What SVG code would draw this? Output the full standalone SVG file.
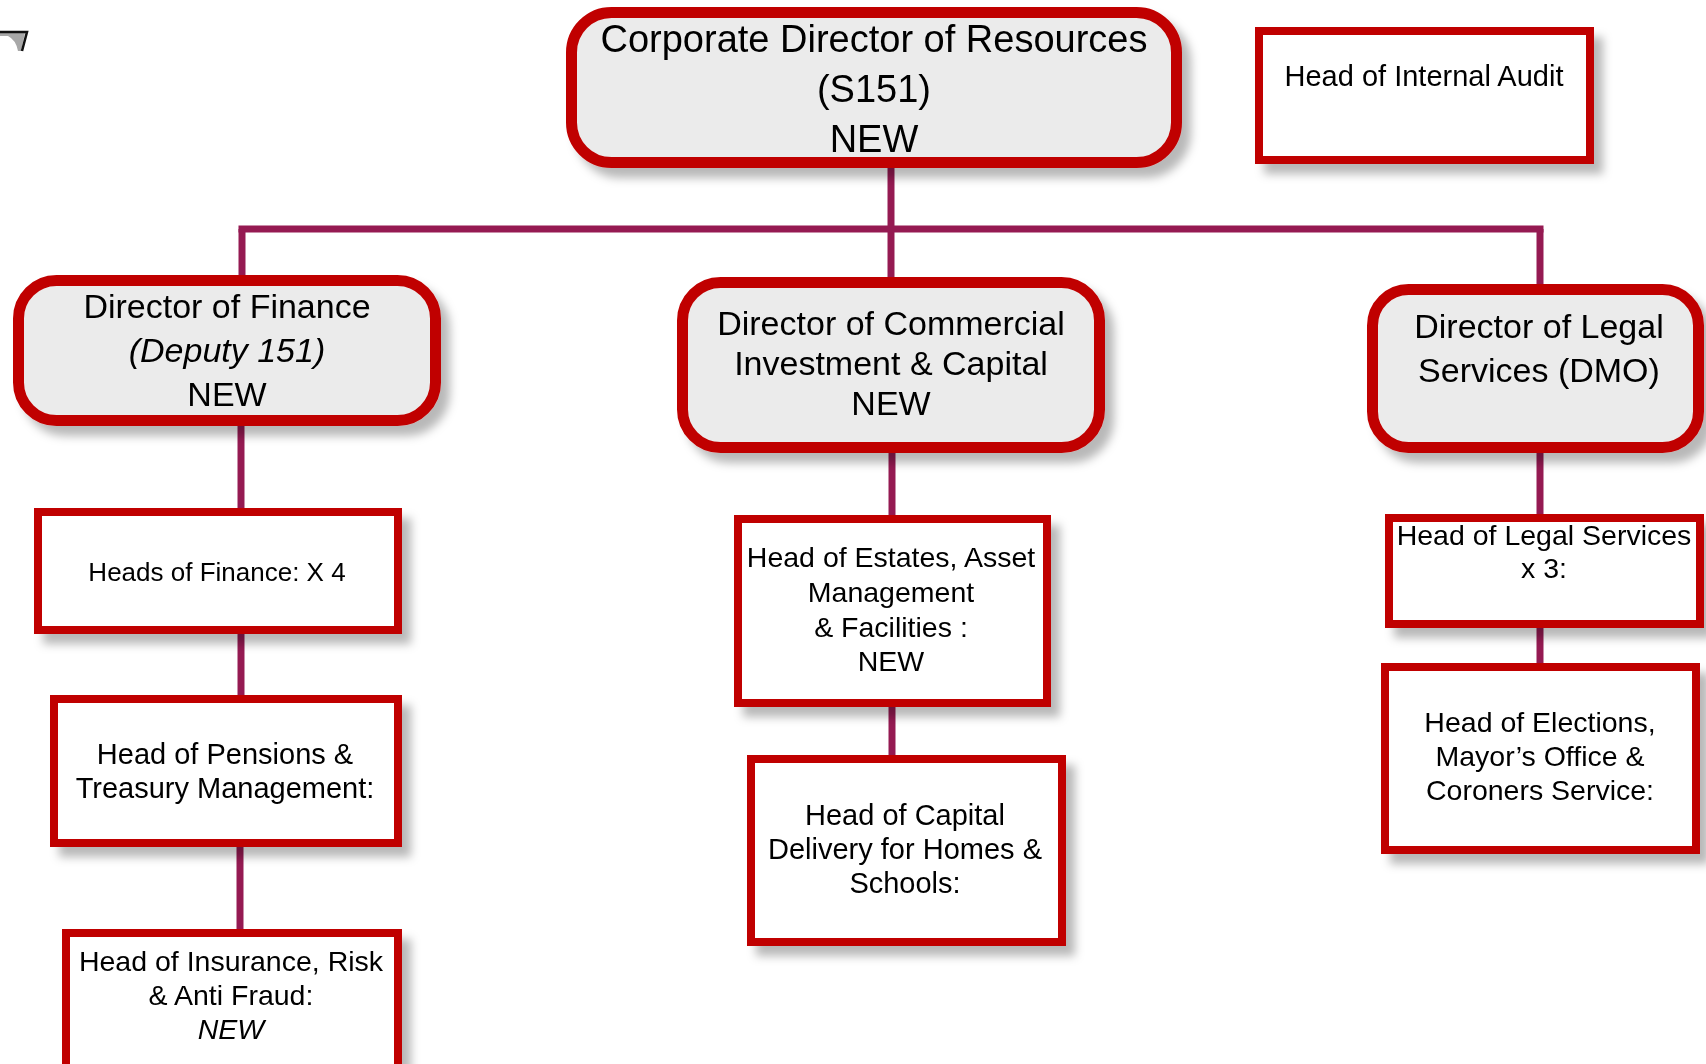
<svg xmlns="http://www.w3.org/2000/svg" width="1706" height="1064" viewBox="0 0 1706 1064">
<style>
text{font-family:"Liberation Sans",Arial,sans-serif;fill:#000;text-anchor:middle}
.dir{fill:#EBEBEB;stroke:#C00000;stroke-width:11}
.box{fill:#FFFFFF;stroke:#C00000;stroke-width:8}
.con{stroke:#951A52;stroke-width:7;fill:none}
.t38{font-size:38px}.t34{font-size:34px}.t29{font-size:29px}.t28{font-size:28.5px}.t26{font-size:26px}
.it{font-style:italic}
</style>
<defs>
<filter id="sh" x="-10%" y="-10%" width="130%" height="140%">
<feDropShadow dx="9" dy="10" stdDeviation="5" flood-color="#000" flood-opacity="0.28"/>
</filter>
</defs>
<rect width="1706" height="1064" fill="#FFFFFF"/>
<g id="fragment">
<path d="M0,33 L25,33 L21,51 L18,51 Q16,40 8,36 L0,36 Z" fill="#A8A8A8"/>
<path d="M0,32 L27,32 L22,51" fill="none" stroke="#111" stroke-width="2.5"/>
</g>
<g id="connectors" class="con">
<line x1="891" y1="168" x2="891" y2="229"/>
<line x1="238.5" y1="229" x2="1543.5" y2="229"/>
<line x1="242" y1="229" x2="242" y2="276"/>
<line x1="891" y1="229" x2="891" y2="278"/>
<line x1="1540" y1="229" x2="1540" y2="285"/>
<line x1="241" y1="425" x2="241" y2="509"/>
<line x1="241" y1="633" x2="241" y2="696"/>
<line x1="240" y1="846" x2="240" y2="930"/>
<line x1="892" y1="452" x2="892" y2="516"/>
<line x1="892" y1="706" x2="892" y2="756"/>
<line x1="1540" y1="452" x2="1540" y2="515"/>
<line x1="1540" y1="627" x2="1540" y2="664"/>
</g>
<g id="corporate-director" filter="url(#sh)">
<rect class="dir" x="571.5" y="12.5" width="605" height="150" rx="40"/>
<text class="t38" x="874" y="52">Corporate Director of Resources</text>
<text class="t38" x="874" y="102">(S151)</text>
<text class="t38" x="874" y="152">NEW</text>
</g>
<g id="head-internal-audit" filter="url(#sh)">
<rect class="box" x="1259" y="31" width="331" height="129"/>
<text class="t29" x="1424" y="86">Head of Internal Audit</text>
</g>
<g id="director-finance" filter="url(#sh)">
<rect class="dir" x="18.5" y="280.5" width="417" height="140" rx="38"/>
<text class="t34" x="227" y="318">Director of Finance</text>
<text class="t34 it" x="227" y="362">(Deputy 151)</text>
<text class="t34" x="227" y="406">NEW</text>
</g>
<g id="director-commercial" filter="url(#sh)">
<rect class="dir" x="682.5" y="282.5" width="417" height="165" rx="38"/>
<text class="t34" x="891" y="335">Director of Commercial</text>
<text class="t34" x="891" y="375">Investment &amp; Capital</text>
<text class="t34" x="891" y="415">NEW</text>
</g>
<g id="director-legal" filter="url(#sh)">
<rect class="dir" x="1372.5" y="289.5" width="326" height="158" rx="36"/>
<text class="t34" x="1539" y="338">Director of Legal</text>
<text class="t34" x="1539" y="382">Services (DMO)</text>
</g>
<g id="heads-finance" filter="url(#sh)">
<rect class="box" x="38" y="512" width="360" height="118"/>
<text class="t26" x="217" y="581">Heads of Finance: X 4</text>
</g>
<g id="head-pensions" filter="url(#sh)">
<rect class="box" x="54" y="699" width="344" height="144"/>
<text class="t29" x="225" y="764">Head of Pensions &amp;</text>
<text class="t29" x="225" y="798">Treasury Management:</text>
</g>
<g id="head-insurance" filter="url(#sh)">
<rect class="box" x="66" y="933" width="332" height="140"/>
<text class="t28" x="231" y="971">Head of Insurance, Risk</text>
<text class="t28" x="231" y="1005">&amp; Anti Fraud:</text>
<text class="t28 it" x="231" y="1039">NEW</text>
</g>
<g id="head-estates" filter="url(#sh)">
<rect class="box" x="738" y="519" width="309" height="184"/>
<text class="t28" x="891" y="567">Head of Estates, Asset</text>
<text class="t28" x="891" y="602">Management</text>
<text class="t28" x="891" y="637">&amp; Facilities :</text>
<text class="t28" x="891" y="671">NEW</text>
</g>
<g id="head-capital" filter="url(#sh)">
<rect class="box" x="751" y="759" width="311" height="183"/>
<text class="t29" x="905" y="825">Head of Capital</text>
<text class="t29" x="905" y="859">Delivery for Homes &amp;</text>
<text class="t29" x="905" y="893">Schools:</text>
</g>
<g id="head-legal-services" filter="url(#sh)">
<rect class="box" x="1389" y="518" width="311" height="106"/>
<text class="t28" x="1544" y="545">Head of Legal Services</text>
<text class="t28" x="1544" y="578">x 3:</text>
</g>
<g id="head-elections" filter="url(#sh)">
<rect class="box" x="1385" y="667" width="311" height="183"/>
<text class="t28" x="1540" y="732">Head of Elections,</text>
<text class="t28" x="1540" y="766">Mayor’s Office &amp;</text>
<text class="t28" x="1540" y="800">Coroners Service:</text>
</g>
</svg>
